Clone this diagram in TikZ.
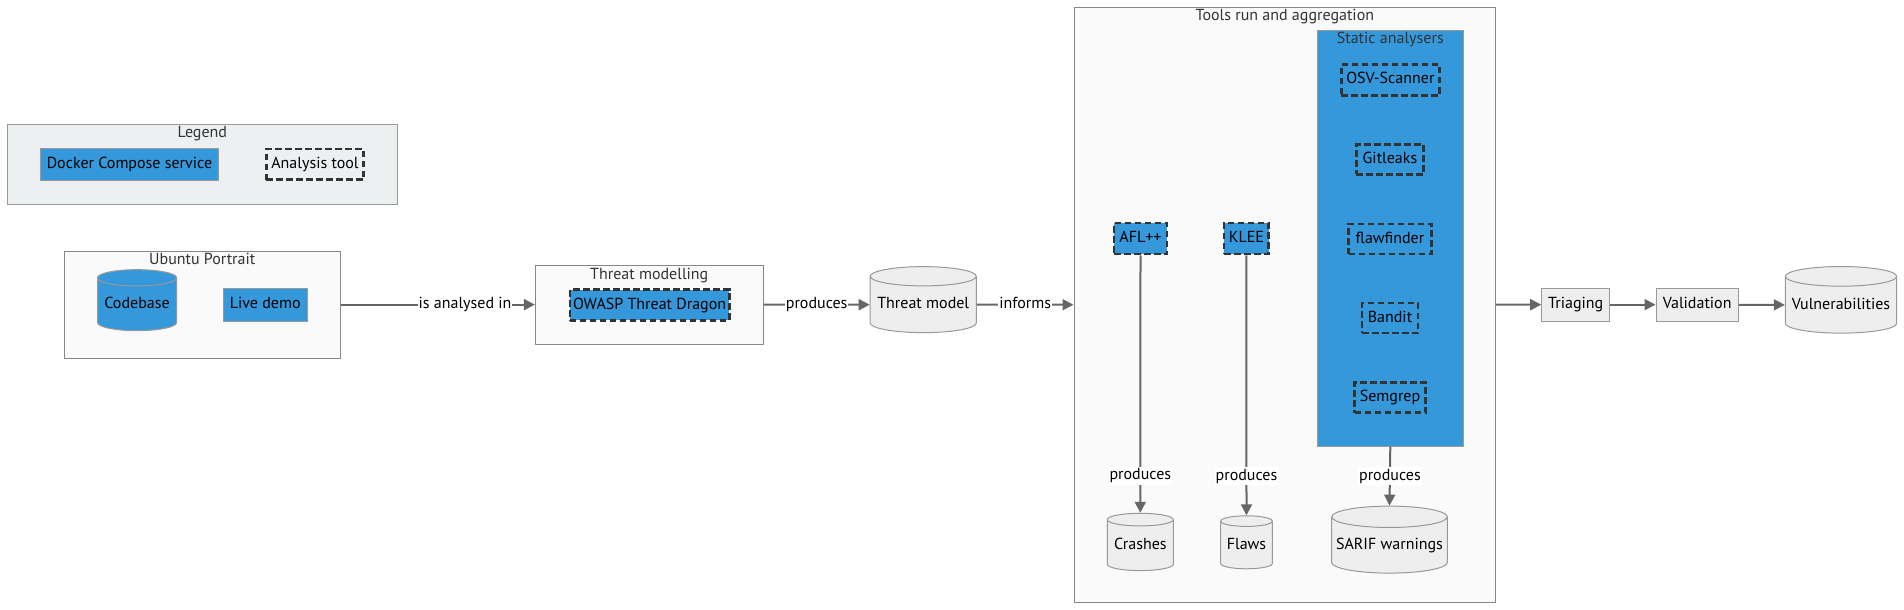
\documentclass[tikz,border=0pt]{standalone}
\usepackage{fontspec}
\setmainfont{PT Sans}
\usepackage{tikz}
\usetikzlibrary{shapes.geometric, arrows.meta, positioning}
\definecolor{svcblue}{HTML}{3498DB}
\definecolor{legendfill}{HTML}{ECF0F1}
\definecolor{clusterfill}{HTML}{FAFAFA}
\definecolor{clusterline}{HTML}{888888}
\definecolor{nodefill}{HTML}{EEEEEE}
\definecolor{nodeline}{HTML}{999999}
\definecolor{tooldash}{HTML}{333333}
\definecolor{titlegray}{HTML}{333333}
\definecolor{edgegray}{HTML}{666666}

\begin{document}
\begin{tikzpicture}[
    x=1pt, y=-1pt,
    every node/.style={font=\fontsize{16}{19}\selectfont, inner sep=0pt, text height=11pt, text depth=3pt},
    cluster/.style={draw=clusterline, fill=clusterfill, line width=1pt},
    ctitle/.style={text=titlegray},
    box/.style={draw=nodeline, fill=nodefill, line width=1pt},
    service/.style={box, fill=svcblue},
    tool/.style={draw=tooldash, line width=2.6pt, dash pattern=on 6.5pt off 3.5pt},
    store/.style={cylinder, shape border rotate=90, aspect=0.22, draw=nodeline, fill=nodefill, line width=1pt},
    arrow/.style={-{Triangle[length=11pt, width=11pt]}, line width=2pt, draw=edgegray},
    elabel/.style={fill=white, inner xsep=1pt, inner ysep=2pt, text=black}
]
    \useasboundingbox (0,0) rectangle (1904,610);

    % Legend
    \node[cluster, fill=legendfill, draw=nodeline, minimum width=390.3pt, minimum height=79.7pt] (legend) at (202.35,164.15) {};
    \node[ctitle] (legendtitle) at (202.35,133.3) {Legend};
    \node[service, minimum width=178.3pt, minimum height=31.7pt] (docker) at (129.45,164.15) {Docker Compose service};
    \node[tool, minimum width=97.4pt, minimum height=30.7pt] (atool) at (315,164.35) {Analysis tool};

    % Ubuntu Portrait
    \node[cluster, minimum width=276.1pt, minimum height=107.3pt] (ubuntu) at (202.25,304.65) {};
    \node[ctitle] (ubuntutitle) at (202.25,260) {Ubuntu Portrait};
    \node[store, fill=svcblue, aspect=0.25, minimum width=79.1pt, minimum height=61pt] (codebase) at (137.05,304.5) {Codebase};
    \node[service, minimum width=84.1pt, minimum height=32.3pt] (livedemo) at (265.25,304.85) {Live demo};

    % Threat modelling
    \node[cluster, minimum width=227.7pt, minimum height=79.3pt] (threatmod) at (649.25,304.65) {};
    \node[ctitle] (threatmodtitle) at (649.25,275) {Threat modelling};
    \node[service, tool, minimum width=159.4pt, minimum height=30.8pt] (owasp) at (649.6,305) {OWASP Threat Dragon};
    \node[store, aspect=0.21, minimum width=106.1pt, minimum height=66pt] (tmodel) at (923.25,304.7) {Threat model};

    % Tools run and aggregation
    \node[cluster, minimum width=421.7pt, minimum height=595pt] (tools) at (1284.85,304.8) {};
    \node[ctitle] (toolstitle) at (1284.85,16.7) {Tools run and aggregation};
    \node[service, minimum width=146pt, minimum height=415.3pt] (static) at (1390.3,238.35) {};
    \node[ctitle] (statictitle) at (1390.3,40) {Static analysers};
    \node[tool, minimum width=98.1pt, minimum height=30.8pt] (osv) at (1390.35,80) {OSV-Scanner};
    \node[tool, minimum width=67.4pt, minimum height=29.8pt] (gitleaks) at (1390,159.5) {Gitleaks};
    \node[tool, minimum width=82.8pt, minimum height=30pt] (flawfinder) at (1390,239) {flawfinder};
    \node[tool, minimum width=56pt, minimum height=30pt] (bandit) at (1390,318) {Bandit};
    \node[tool, minimum width=70.8pt, minimum height=30.4pt] (semgrep) at (1390,397.5) {Semgrep};
    \node[service, tool, minimum width=53pt, minimum height=31pt] (afl) at (1140.5,238.5) {AFL++};
    \node[service, tool, minimum width=44.7pt, minimum height=31pt] (klee) at (1246.35,238.5) {KLEE};
    \node[store, aspect=0.24, minimum width=66pt, minimum height=57.3pt] (crashes) at (1140.3,545.35) {Crashes};
    \node[store, aspect=0.27, minimum width=51.6pt, minimum height=53pt] (flaws) at (1246.5,545.2) {Flaws};
    \node[store, aspect=0.2, minimum width=115.6pt, minimum height=67pt] (sarif) at (1389.5,545.2) {SARIF warnings};

    % Post-processing
    \node[box, minimum width=68pt, minimum height=32.7pt] (triaging) at (1575.7,304.65) {Triaging};
    \node[box, minimum width=82.3pt, minimum height=32.7pt] (validation) at (1697.15,304.65) {Validation};
    \node[store, aspect=0.2, minimum width=111.4pt, minimum height=66.6pt] (vulns) at (1841,305) {Vulnerabilities};

    % Connections
    \draw[arrow] (ubuntu) -- node[elabel, pos=0.64] (analysedlabel) {is analysed in} (threatmod);
    \draw[arrow] (threatmod) -- node[elabel] (produceslabel) {produces} (tmodel);
    \draw[arrow] (tmodel) -- node[elabel] (informslabel) {informs} (tools);
    \draw[arrow] (afl.south) -- node[elabel, pos=0.856] (aflproduces) {produces} (crashes.north);
    \draw[arrow] (klee.south) -- node[elabel, pos=0.85] (kleeproduces) {produces} (flaws.north);
    \draw[arrow] (static.south) -- node[elabel] (staticproduces) {produces} (sarif.north);
    \draw[arrow] (tools) -- (triaging);
    \draw[arrow] (triaging) -- (validation);
    \draw[arrow] (validation) -- (vulns);
\end{tikzpicture}
\end{document}
